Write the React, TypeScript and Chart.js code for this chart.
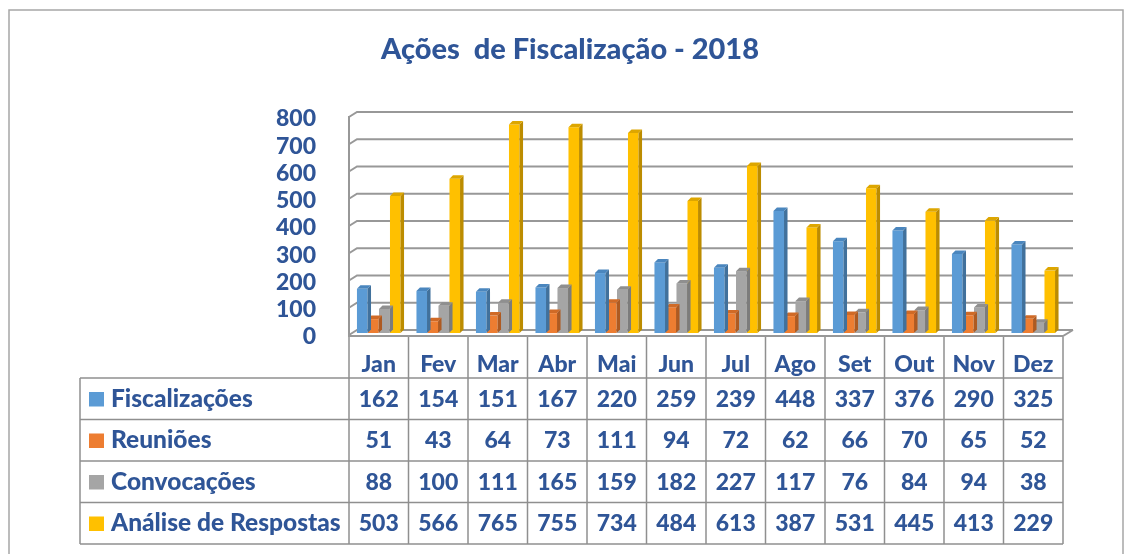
import React, { useEffect, useRef } from "react";
import { Chart, registerables } from "chart.js";

Chart.register(...registerables);

const months = ["Jan", "Fev", "Mar", "Abr", "Mai", "Jun", "Jul", "Ago", "Set", "Out", "Nov", "Dez"];
const fiscalizacoes = [162, 154, 151, 167, 220, 259, 239, 448, 337, 376, 290, 325];
const reunioes = [51, 43, 64, 73, 111, 94, 72, 62, 66, 70, 65, 52];
const convocacoes = [88, 100, 111, 165, 159, 182, 227, 117, 76, 84, 94, 38];
const analise = [503, 566, 765, 755, 734, 484, 613, 387, 531, 445, 413, 229];
const seriesNames = ["Fiscalizações", "Reuniões", "Convocações", "Análise de Respostas"];
const seriesColors = ["#5B9BD5", "#ED7D31", "#A5A5A5", "#FFC000"];
const sideColors = ["#41719C", "#AE5A21", "#7C7C7C", "#BC8C00"];
const topColors = ["#4A86BE", "#D06A26", "#8F8F8F", "#DDA600"];
const yTicks = [0, 100, 200, 300, 400, 500, 600, 700, 800];
const titleText = "Ações  de Fiscalização - 2018";

const TEXT = "#2F5597";
const FONT = "Lato, 'Open Sans', sans-serif";
const GRID = "#989898";

const depthPlugin = {
  id: "depth3d",
  beforeDraw(chart: any) {
    const { ctx, chartArea } = chart;
    const y = chart.scales.y;
    ctx.save();
    ctx.fillStyle = "#ffffff";
    ctx.fillRect(0, 0, chart.width, chart.height);
    // outer border
    ctx.strokeStyle = "#A6A6A6";
    ctx.lineWidth = 1.5;
    ctx.strokeRect(9, 10, chart.width - 18, chart.height + 20);
    // title
    ctx.fillStyle = TEXT;
    ctx.font = "900 29px " + FONT;
    ctx.textAlign = "center";
    ctx.textBaseline = "alphabetic";
    ctx.fillText(titleText, 570, 59);
    // walls
    const dx = 8;
    ctx.strokeStyle = GRID;
    ctx.lineWidth = 2;
    yTicks.forEach((v) => {
      const py = y.getPixelForValue(v);
      ctx.beginPath();
      ctx.moveTo(chartArea.left, py + 2);
      ctx.lineTo(chartArea.left + dx, py - 3);
      ctx.lineTo(chartArea.right + 10, py - 3);
      ctx.stroke();
    });
    // left front vertical
    ctx.beginPath();
    ctx.moveTo(chartArea.left, y.getPixelForValue(800) + 1);
    ctx.lineTo(chartArea.left, chartArea.bottom + 4);
    ctx.stroke();
    // floor front edge
    const fy = chartArea.bottom + 3;
    ctx.beginPath();
    ctx.moveTo(chartArea.left, fy);
    ctx.lineTo(chartArea.right, fy);
    ctx.lineTo(chartArea.right + 10, y.getPixelForValue(0) - 3);
    ctx.stroke();
    ctx.restore();
  },
  afterDatasetDraw(chart: any, args: any) {
    const { ctx } = chart;
    const i = args.index;
    const meta = chart.getDatasetMeta(i);
    const d = 3.5, e = 3.5;
    ctx.save();
    meta.data.forEach((bar: any) => {
      const p = bar.getProps(["x", "y", "base", "width"], true);
      const x0 = p.x - p.width / 2, x1 = p.x + p.width / 2;
      ctx.fillStyle = sideColors[i];
      ctx.beginPath();
      ctx.moveTo(x1, p.y);
      ctx.lineTo(x1 + d, p.y - e);
      ctx.lineTo(x1 + d, p.base - e);
      ctx.lineTo(x1, p.base);
      ctx.closePath();
      ctx.fill();
      ctx.fillStyle = topColors[i];
      ctx.beginPath();
      ctx.moveTo(x0, p.y);
      ctx.lineTo(x0 + d, p.y - e);
      ctx.lineTo(x1 + d, p.y - e);
      ctx.lineTo(x1, p.y);
      ctx.closePath();
      ctx.fill();
    });
    ctx.restore();
  },
  afterDraw(chart: any) {
    const { ctx, chartArea } = chart;
    const x = chart.scales.x;
    const colW = (chartArea.right - chartArea.left) / months.length;
    const headTop = chartArea.bottom + 4;
    const rowTop = headTop + 41;
    const rowH = 41.5;
    const legendLeft = 80;
    const rows = [fiscalizacoes, reunioes, convocacoes, analise];
    ctx.save();
    ctx.strokeStyle = "#8F8F8F";
    ctx.lineWidth = 1.5;
    for (let i = 0; i <= months.length; i++) {
      const px = chartArea.left + i * colW;
      ctx.beginPath();
      ctx.moveTo(px, headTop);
      ctx.lineTo(px, rowTop + rows.length * rowH);
      ctx.stroke();
    }
    ctx.beginPath();
    ctx.moveTo(legendLeft, rowTop);
    ctx.lineTo(legendLeft, rowTop + rows.length * rowH);
    ctx.stroke();
    for (let r = 0; r <= rows.length; r++) {
      const py = rowTop + r * rowH;
      ctx.beginPath();
      ctx.moveTo(legendLeft, py);
      ctx.lineTo(chartArea.right, py);
      ctx.stroke();
    }
    ctx.fillStyle = TEXT;
    ctx.textAlign = "center";
    ctx.textBaseline = "alphabetic";
    ctx.font = "900 23px " + FONT;
    months.forEach((m, i) => {
      ctx.fillText(m, x.getPixelForValue(i), headTop + 35);
    });
    rows.forEach((vals, r) => {
      const by = rowTop + r * rowH + 28.5;
      ctx.font = "900 23px " + FONT;
      vals.forEach((v, i) => {
        ctx.textAlign = "center";
        ctx.fillStyle = TEXT;
        ctx.fillText(String(v), x.getPixelForValue(i), by);
      });
      ctx.fillStyle = seriesColors[r];
      ctx.fillRect(legendLeft + 9, by - 14.5, 15, 14.5);
      ctx.fillStyle = TEXT;
      ctx.textAlign = "left";
      ctx.font = "900 24.5px " + FONT;
      ctx.fillText(seriesNames[r], legendLeft + 31, by);
    });
    ctx.restore();
  },
};

export default function App() {
  const ref = useRef<HTMLCanvasElement>(null);
  useEffect(() => {
    if (!ref.current) return;
    const chart = new Chart(ref.current, {
      type: "bar",
      data: {
        labels: months,
        datasets: [fiscalizacoes, reunioes, convocacoes, analise].map((vals, i) => ({
          label: seriesNames[i],
          data: vals,
          backgroundColor: seriesColors[i],
          borderWidth: 0,
          categoryPercentage: 0.74,
          barPercentage: 0.96,
        })),
      },
      options: {
        responsive: false,
        animation: false,
        layout: { padding: { top: 115, bottom: 221, right: 69, left: 0 } },
        plugins: {
          legend: { display: false },
          tooltip: { enabled: false },
          title: { display: false },
        },
        scales: {
          x: { display: false, offset: true },
          y: {
            min: 0,
            max: 800,
            afterFit: (s: any) => {
              s.width = 349;
            },
            ticks: {
              stepSize: 100,
              autoSkip: false,
              color: TEXT,
              padding: 25,
              labelOffset: 4,
              font: { family: FONT, size: 23, weight: "900" },
            },
            grid: { display: false },
            border: { display: false },
          },
        },
      },
      plugins: [depthPlugin],
    });
    return () => chart.destroy();
  }, []);
  return (
    <div style={{ position: "absolute", left: 0, top: 0, width: 1132, height: 554 }}>
      <canvas ref={ref} width={1132} height={554} style={{ display: "block" }} />
    </div>
  );
}
